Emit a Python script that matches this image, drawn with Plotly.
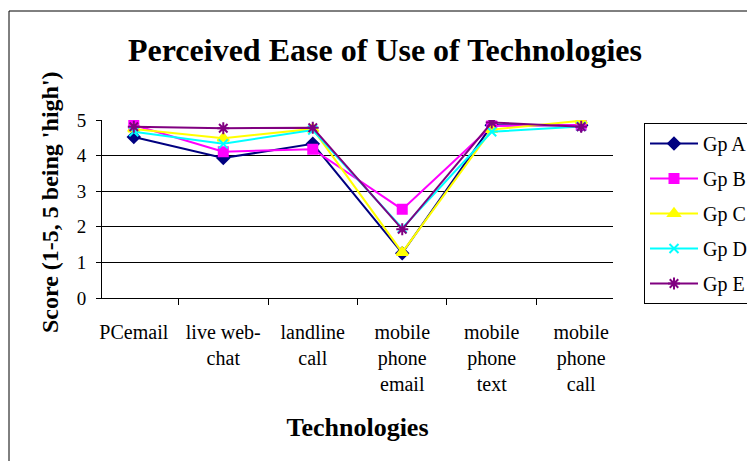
import plotly.graph_objects as go

categories = ["PCemail", "live web-<br>chat", "landline<br>call", "mobile<br>phone<br>email",
              "mobile<br>phone<br>text", "mobile<br>phone<br>call"]
gp_a = [4.52, 3.93, 4.33, 1.26, 4.85, 4.85]
gp_b = [4.86, 4.11, 4.18, 2.49, 4.83, 4.86]
gp_c = [4.75, 4.49, 4.75, 1.28, 4.73, 4.98]
gp_d = [4.67, 4.33, 4.72, 1.96, 4.67, 4.82]
gp_e = [4.81, 4.77, 4.78, 1.93, 4.93, 4.81]
series_names = ["Gp A", "Gp B", "Gp C", "Gp D", "Gp E"]
yticks = [0, 1, 2, 3, 4, 5]

series = [gp_a, gp_b, gp_c, gp_d, gp_e]
colors = ["#000080", "#FF00FF", "#FFFF00", "#00FFFF", "#800080"]
symbols = ["diamond", "square", "triangle-up", "x-thin-open", "asterisk-open"]
sizes = [9, 9, 10, 9, 10]

L, R, T, B = 102, 613, 120, 298
W, H = 747, 461
pw, ph = R - L, B - T

fig = go.Figure()
for name, vals, col, sym, sz in zip(series_names, series, colors, symbols, sizes):
    fig.add_trace(go.Scatter(
        x=categories, y=vals, name=name, mode="lines+markers",
        legendgroup=name,
        line=dict(color=col, width=2),
        marker=dict(symbol=sym, size=sz, color=col, line=dict(color=col, width=2)),
    ))

font_family = "Liberation Serif, Times New Roman, serif"
fig.update_layout(
    width=W, height=H,
    margin=dict(l=L, r=W - R, t=T, b=H - B, autoexpand=False),
    paper_bgcolor="white", plot_bgcolor="white",
    font=dict(family=font_family, color="black", size=20),
    title=dict(text="<b>Perceived Ease of Use of Technologies</b>",
               x=385 / W, xanchor="center", y=1 - 50 / H, yanchor="middle",
               font=dict(size=32, family=font_family, color="black")),
    showlegend=True,
    legend=dict(x=(644 - L) / pw, xanchor="left",
                yref="container", y=1 - 123 / H, yanchor="top", maxheight=0.8,
                bordercolor="black", borderwidth=1, bgcolor="white",
                font=dict(size=20, family=font_family),
                traceorder="grouped", tracegroupgap=6, itemwidth=48),
)
fig.update_xaxes(
    title=dict(text="<b>Technologies</b>", font=dict(size=26, family=font_family), standoff=23),
    showline=True, linecolor="black", linewidth=1, mirror=False,
    ticks="outside", tickson="boundaries", ticklen=6, tickcolor="black",
    showgrid=False, tickfont=dict(size=20, family=font_family), tickangle=0,
    ticklabelstandoff=16,
)
fig.update_yaxes(
    range=[0, 5], tickvals=yticks, ticktext=[str(v) for v in yticks],
    showline=True, linecolor="black", linewidth=1,
    ticks="outside", ticklen=5, tickcolor="black",
    showgrid=True, gridcolor="black", gridwidth=1, zeroline=False,
    tickfont=dict(size=19, family=font_family), ticklabelstandoff=6,
)
# y-axis title placed as a rotated annotation
fig.add_annotation(text="<b>Score (1-5, 5 being 'high')</b>", textangle=-90,
                   xref="paper", yref="paper", x=(50 - L) / pw, y=(B - 202) / ph,
                   xanchor="center", yanchor="middle", showarrow=False,
                   font=dict(size=24, family=font_family, color="black"))
# outer chart frame (top and left edges visible in the reference)
fy = (B - 11) / ph
fx = (9 - L) / pw
fig.add_shape(type="line", xref="paper", yref="paper",
              x0=fx, x1=(770 - L) / pw, y0=fy, y1=fy,
              line=dict(color="black", width=1))
fig.add_shape(type="line", xref="paper", yref="paper",
              x0=fx, x1=fx, y0=fy, y1=(B - 480) / ph,
              line=dict(color="black", width=1))

fig.write_html("out.html")
